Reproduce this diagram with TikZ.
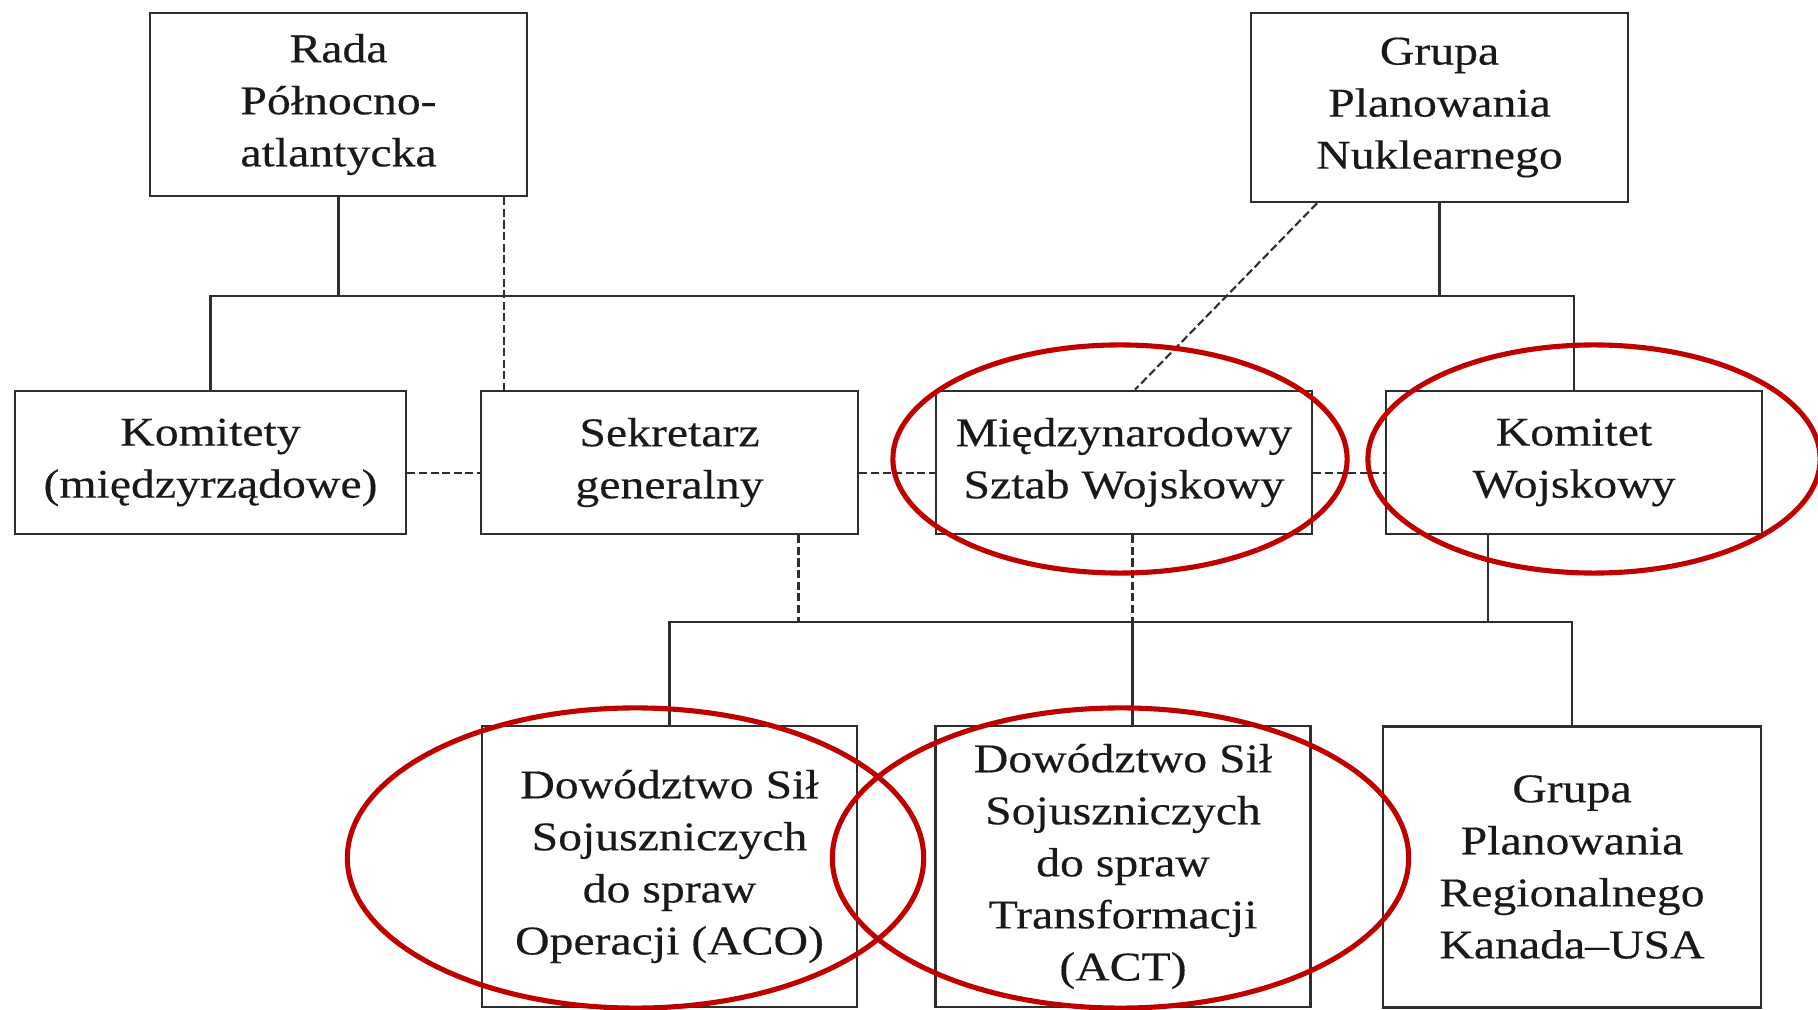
\documentclass[tikz,border=0pt]{standalone}
\usepackage{fontspec}
\setmainfont{Liberation Serif}[FakeStretch=1.17, FakeBold=0.3]
\definecolor{inkc}{HTML}{2E2E2E}
\definecolor{ringred}{HTML}{C00000}
\tikzset{
  box/.style={draw=inkc, line width=0.7pt, inner sep=0pt, align=center, text=black!90,
    font=\fontsize{11.6pt}{14.8pt}\selectfont},
  conn/.style={draw=inkc, line width=0.6pt},
  dashline/.style={draw=inkc, line width=0.6pt, dash pattern=on 2.3pt off 1pt},
  ring/.style={draw=ringred, line width=1.45pt}
}
\begin{document}
\begin{tikzpicture}[x=0.01cm, y=-0.01cm]
\fill[white] (0,0) rectangle (1818,1010);
\useasboundingbox (0,0) rectangle (1818,1010);

% boxes
\node[box, minimum width=3.77cm, minimum height=1.83cm] (rada) at (338.5,104.5) {Rada\\Północno-\\atlantycka};
\node[box, minimum width=3.77cm, minimum height=1.89cm] (gpn) at (1439.5,107.5) {Grupa\\Planowania\\Nuklearnego};
\node[box, minimum width=3.91cm, minimum height=1.43cm] (kom) at (210.5,462.5) {Komitety\\(międzyrządowe)};
\node[box, minimum width=3.77cm, minimum height=1.43cm] (sek) at (669.5,462.5) {Sekretarz\\generalny};
\node[box, minimum width=3.76cm, minimum height=1.43cm] (msw) at (1124,462.5) {Międzynarodowy\\Sztab Wojskowy};
\node[box, minimum width=3.76cm, minimum height=1.43cm] (kw) at (1574,462.5) {Komitet\\Wojskowy};
\node[box, minimum width=3.75cm, minimum height=2.81cm] (aco) at (669.5,866.5) {Dowództwo Sił\\Sojuszniczych\\do spraw\\Operacji (ACO)};
\node[box, minimum width=3.75cm, minimum height=2.81cm] (act) at (1123,866.5) {Dowództwo Sił\\Sojuszniczych\\do spraw\\Transformacji\\(ACT)};
\node[box, minimum width=3.78cm, minimum height=2.81cm] (grr) at (1572,867) {Grupa\\Planowania\\Regionalnego\\Kanada–USA};

% upper bus
\coordinate (busL) at (210.5,296);
\coordinate (busR) at (1574,296);
\draw[conn] (rada.south) -- (rada.south |- busL);
\draw[conn] (kom.north) -- (kom.north |- busL) -- (busR) -- (kw.north);
\draw[conn] (gpn.south) -- (gpn.south |- busL);

% dashed links
\coordinate (d1) at (504,0);
\draw[dashline] (d1 |- rada.south) -- (d1 |- sek.north);
\coordinate (d2a) at (1317,0);
\coordinate (d2b) at (1135,0);
\draw[dashline] (d2a |- gpn.south) -- (d2b |- msw.north);
\coordinate (hy) at (0,473);
\draw[dashline] (kom.east |- hy) -- (sek.west |- hy);
\draw[dashline] (sek.east |- hy) -- (msw.west |- hy);
\draw[dashline] (msw.east |- hy) -- (kw.west |- hy);

% lower bus
\coordinate (v1) at (798.5,622);
\coordinate (v2) at (1132.5,622);
\coordinate (v3) at (1488,622);
\coordinate (bus2R) at (1572,622);
\draw[dashline] (v1 |- sek.south) -- (v1);
\draw[dashline] (v2 |- msw.south) -- (v2);
\draw[conn] (v3 |- kw.south) -- (v3);
\draw[conn] (aco.north) -- (aco.north |- bus2R) -- (bus2R) -- (grr.north);
\draw[conn] (v2) -- (v2 |- act.north);

% red rings
\draw[ring] (1120,459) ellipse [x radius=2.27cm, y radius=1.14cm];
\draw[ring] (1594,459) ellipse [x radius=2.26cm, y radius=1.14cm];
\draw[ring] (635.5,858) ellipse [x radius=2.88cm, y radius=1.50cm];
\draw[ring] (1120.5,858) ellipse [x radius=2.88cm, y radius=1.50cm];
\end{tikzpicture}
\end{document}
